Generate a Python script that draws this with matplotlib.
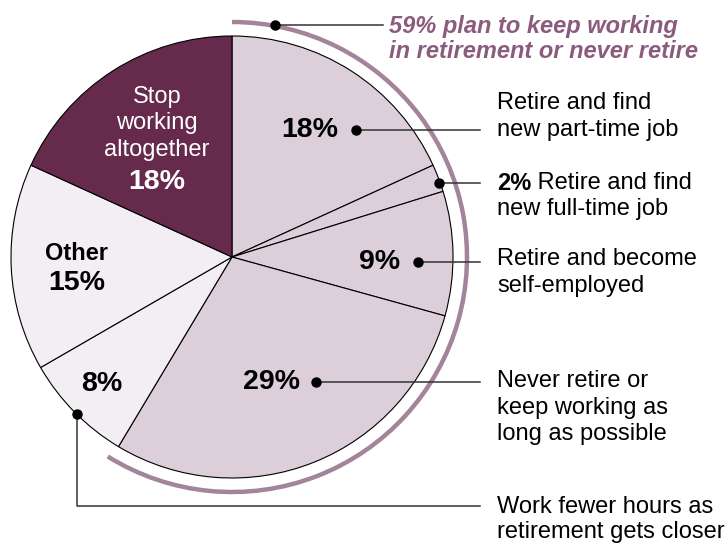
import matplotlib.pyplot as plt
from matplotlib.patches import Arc

plt.rcParams['font.family'] = ['Liberation Sans', 'DejaVu Sans']

# Datos
categorias = ["Retire and find new part-time job", "Retire and find new full-time job",
              "Retire and become self-employed", "Never retire or keep working as long as possible",
              "Work fewer hours as retirement gets closer", "Other", "Stop working altogether"]
valores = [18, 2, 9, 29, 8, 15, 18]
colores = ["#dccfd9", "#dccfd9", "#dccfd9", "#dccfd9", "#f3eef3", "#f3eef3", "#652a4c"]
trabajando = 59  # % que sigue trabajando

H = 545  # alto en px, para pasar coordenadas de pantalla a datos
def Y(y):
    return H - y

fig = plt.figure(figsize=(7.28, 5.45), dpi=100)
ax = fig.add_axes([0, 0, 1, 1])

cx, cy, r = 232, Y(257), 221
ax.pie(valores, colors=colores, startangle=90, counterclock=False,
       center=(cx, cy), radius=r,
       wedgeprops=dict(edgecolor='black', linewidth=0.8))
ax.set_xlim(0, 728)
ax.set_ylim(0, H)
ax.set_aspect('equal')
ax.axis('off')

# arco del 59%
extension = sum(valores[:4]) / sum(valores) * 360
arco = Arc((cx, cy), 2 * 235, 2 * 235, theta1=90 - extension - 1, theta2=90,
           color="#a3849a", linewidth=3.2)
ax.add_patch(arco)

fs = 17      # texto normal
fs_pct = 20.5  # porcentajes

linea = dict(color="#333333", linewidth=1.1)
def punto(x, y):
    ax.plot([x], [Y(y)], 'o', color='black', markersize=6.5)

# titulo del arco
ax.plot([275, 383], [Y(25), Y(25)], **linea)
punto(275, 25)
ax.text(389, Y(27), f"{trabajando}% plan to keep working", fontsize=17, fontweight='bold',
        fontstyle='italic', color="#8b5b7d", va='center', ha='left')
ax.text(389, Y(52), "in retirement or never retire", fontsize=17, fontweight='bold',
        fontstyle='italic', color="#8b5b7d", va='center', ha='left')

# etiquetas de la derecha
tx = 497
ax.plot([356, 480], [Y(130), Y(130)], **linea)
punto(356, 130)
ax.text(tx, Y(103), "Retire and find", fontsize=fs, va='center')
ax.text(tx, Y(130), "new part-time job", fontsize=fs, va='center')

ax.plot([439, 480], [Y(183), Y(183)], **linea)
punto(439, 183)
t2 = ax.text(tx, Y(183), f"{valores[1]}%", fontsize=fs, fontweight='bold', va='center')
ax.annotate(" Retire and find", xy=(1, 0.5), xycoords=t2, fontsize=fs, va='center')
ax.text(tx, Y(209), "new full-time job", fontsize=fs, va='center')

ax.plot([418, 480], [Y(262), Y(262)], **linea)
punto(418, 262)
ax.text(tx, Y(259), "Retire and become", fontsize=fs, va='center')
ax.text(tx, Y(286), "self-employed", fontsize=fs, va='center')

ax.plot([316, 480], [Y(382), Y(382)], **linea)
punto(316, 382)
ax.text(tx, Y(381), "Never retire or", fontsize=fs, va='center')
ax.text(tx, Y(408), "keep working as", fontsize=fs, va='center')
ax.text(tx, Y(434), "long as possible", fontsize=fs, va='center')

ax.plot([77, 77, 480], [Y(414), Y(506), Y(506)], **linea)
punto(77, 414)
ax.text(tx, Y(507), "Work fewer hours as", fontsize=fs, va='center')
ax.text(tx, Y(532), "retirement gets closer", fontsize=fs, va='center')

# etiquetas dentro del pastel
ax.text(310, Y(130), f"{valores[0]}%", fontsize=fs_pct, fontweight='bold', ha='center', va='center')
ax.text(380, Y(262), f"{valores[2]}%", fontsize=fs_pct, fontweight='bold', ha='center', va='center')
ax.text(272, Y(382), f"{valores[3]}%", fontsize=fs_pct, fontweight='bold', ha='center', va='center')
ax.text(102, Y(384), f"{valores[4]}%", fontsize=fs_pct, fontweight='bold', ha='center', va='center')
ax.text(76, Y(254), "Other", fontsize=fs, fontweight='bold', ha='center', va='center')
ax.text(77, Y(283), f"{valores[5]}%", fontsize=fs_pct, fontweight='bold', ha='center', va='center')
ax.text(157, Y(97), "Stop", fontsize=fs, color='white', ha='center', va='center')
ax.text(157, Y(123), "working", fontsize=fs, color='white', ha='center', va='center')
ax.text(157, Y(150), "altogether", fontsize=fs, color='white', ha='center', va='center')
ax.text(157, Y(182), f"{valores[6]}%", fontsize=fs_pct, fontweight='bold', color='white',
        ha='center', va='center')

fig.savefig("out.png", dpi=100)
